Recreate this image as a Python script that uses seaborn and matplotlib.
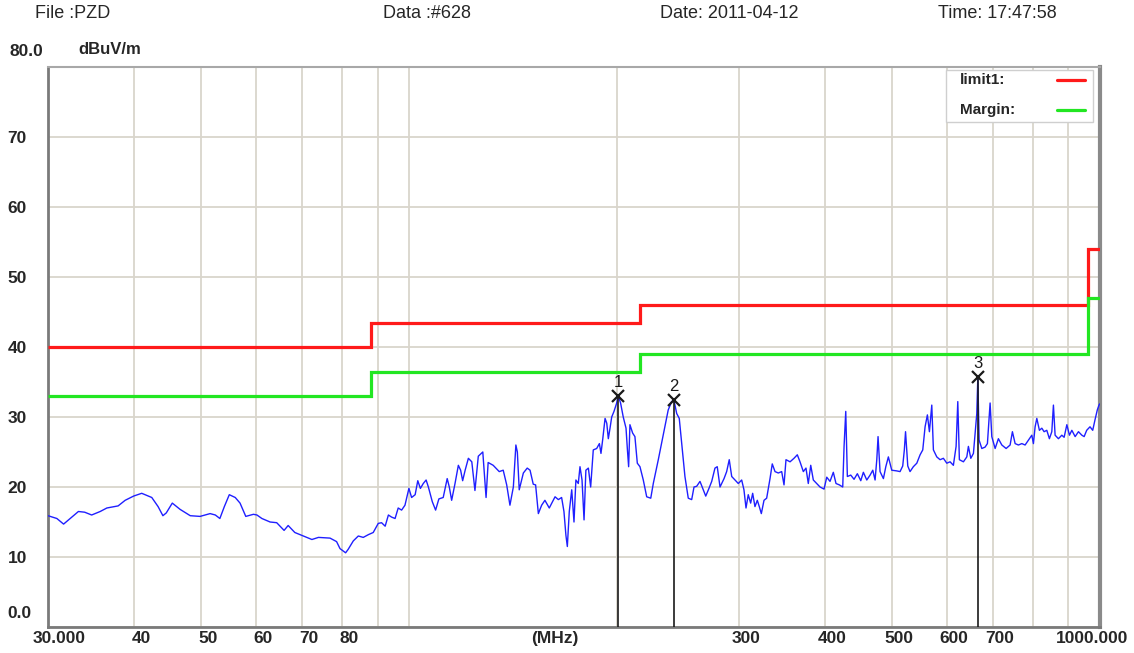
import numpy as np
import pandas as pd
import matplotlib
matplotlib.use("Agg")
import matplotlib.pyplot as plt
import matplotlib.ticker as mticker
import matplotlib.transforms as mtransforms
from matplotlib.patches import Rectangle
from matplotlib.lines import Line2D
import seaborn as sns

freq_mhz = [
    30.0, 30.9, 31.6, 32.3, 33.2, 33.9, 34.7, 35.7, 36.5, 37.9,
    38.8, 39.9, 41.0, 42.4, 43.3, 44.0, 44.5, 45.4, 46.6, 48.2,
    49.8, 51.5, 52.4, 53.2, 54.0, 54.9, 56.0, 56.9, 58.0, 59.5,
    60.2, 61.2, 62.9, 64.3, 65.9, 66.8, 68.3, 70.3, 72.3, 73.9,
    76.8, 78.5, 79.4, 80.9, 81.6, 83.0, 84.4, 85.8, 87.3, 88.7,
    90.2, 91.2, 92.3, 93.3, 94.3, 95.4, 96.4, 97.5, 98.6, 99.9,
    100.8, 102.0, 102.9, 103.8, 104.8, 105.8, 106.6, 108.0, 109.2, 110.4,
    112.0, 113.5, 114.3, 115.2, 116.5, 117.8, 118.7, 119.5, 120.5, 121.8,
    123.2, 124.5, 125.9, 127.8, 129.2, 130.1, 132.3, 135.0, 136.8, 138.4,
    139.9, 141.5, 142.7, 143.4, 144.3, 146.3, 148.2, 149.6, 151.2, 152.4,
    153.8, 155.5, 157.2, 159.5, 162.6, 164.4, 166.2, 167.5, 168.6, 169.4,
    170.5, 171.9, 173.2, 174.3, 175.7, 176.7, 177.9, 179.1, 180.2, 181.7,
    183.1, 184.7, 186.8, 188.5, 189.5, 190.6, 192.1, 193.2, 194.2, 195.3,
    196.4, 197.9, 199.7, 200.7, 202.3, 204.1, 206.0, 206.9, 207.8, 208.7,
    210.6, 212.2, 213.9, 215.8, 218.2, 220.7, 223.7, 225.6, 229.4, 233.2,
    237.1, 239.8, 241.7, 243.9, 246.0, 248.0, 250.7, 253.5, 256.4, 258.4,
    260.7, 263.6, 266.0, 268.7, 271.6, 274.1, 277.1, 279.2, 281.8, 285.6,
    288.1, 290.6, 293.0, 296.2, 299.5, 302.9, 305.2, 307.3, 309.6, 312.1,
    314.2, 316.6, 319.1, 321.2, 323.4, 326.3, 329.2, 332.9, 335.4, 338.5,
    342.2, 346.1, 348.8, 351.1, 355.9, 360.6, 364.6, 367.9, 372.0, 375.3,
    378.2, 381.3, 384.6, 389.0, 393.3, 398.6, 402.2, 406.6, 411.1, 414.8,
    419.5, 424.2, 426.1, 428.5, 430.8, 435.7, 440.5, 445.4, 450.5, 454.4,
    459.6, 464.7, 468.9, 472.5, 475.2, 477.2, 480.4, 485.8, 489.7, 493.9,
    499.5, 507.9, 513.5, 518.1, 520.9, 523.0, 526.9, 530.9, 536.8, 543.0,
    549.0, 553.9, 558.2, 562.5, 566.3, 570.8, 573.9, 580.4, 586.8, 593.3,
    600.1, 606.7, 613.4, 619.0, 622.5, 625.8, 634.3, 641.5, 644.9, 650.1,
    655.8, 659.5, 663.2, 665.5, 668.3, 674.4, 681.8, 687.1, 693.3, 697.2,
    705.0, 712.7, 720.9, 731.3, 741.1, 746.8, 753.6, 761.9, 770.6, 779.1,
    787.7, 796.7, 801.0, 805.5, 810.1, 817.1, 823.7, 830.0, 837.5, 844.8,
    851.6, 856.2, 861.0, 870.6, 880.5, 887.3, 895.4, 903.2, 910.4, 920.5,
    930.7, 941.3, 948.5, 956.6, 967.2, 976.0, 983.5, 991.0, 996.7, 1000.0,
]
level_dbuv = [
    15.9, 15.5, 14.7, 15.5, 16.5, 16.4, 16.0, 16.5, 17.0, 17.3,
    18.1, 18.7, 19.1, 18.5, 17.2, 15.9, 16.3, 17.7, 16.8, 15.9,
    15.8, 16.2, 16.0, 15.5, 17.2, 18.9, 18.5, 17.7, 15.8, 16.1,
    16.0, 15.5, 15.0, 14.9, 13.8, 14.5, 13.5, 13.0, 12.5, 12.8,
    12.7, 12.2, 11.2, 10.6, 11.1, 12.3, 13.0, 12.8, 13.2, 13.5,
    14.8, 14.9, 14.4, 16.0, 15.7, 15.5, 17.0, 16.7, 17.4, 19.8,
    18.5, 18.9, 20.9, 19.8, 20.5, 21.0, 20.0, 17.9, 16.7, 18.3,
    18.5, 21.2, 20.0, 18.1, 20.5, 23.1, 22.4, 20.9, 22.4, 24.1,
    23.6, 19.5, 24.4, 25.0, 18.5, 23.5, 23.1, 22.2, 22.4, 20.3,
    17.4, 20.0, 26.0, 25.0, 19.6, 22.0, 22.7, 22.4, 20.4, 20.3,
    16.2, 17.4, 18.1, 17.0, 18.6, 18.2, 18.5, 16.5, 13.1, 11.5,
    16.5, 19.6, 15.0, 21.0, 20.5, 22.9, 21.0, 15.3, 22.4, 22.7,
    20.0, 25.3, 25.5, 26.2, 24.8, 26.8, 29.8, 29.1, 26.9, 28.4,
    30.0, 30.8, 32.0, 33.0, 32.0, 30.0, 28.4, 25.5, 22.9, 28.9,
    27.7, 27.2, 23.4, 22.9, 21.0, 18.6, 18.4, 20.5, 23.9, 27.4,
    31.0, 32.2, 32.4, 30.5, 29.8, 26.2, 21.5, 18.4, 18.2, 20.0,
    20.1, 20.8, 19.8, 18.7, 19.8, 20.8, 22.7, 22.9, 20.0, 21.2,
    22.2, 23.9, 21.5, 21.0, 20.5, 21.0, 19.6, 17.0, 18.9, 17.7,
    19.1, 17.2, 18.1, 17.2, 16.2, 18.1, 18.4, 21.2, 23.3, 22.2,
    22.0, 22.2, 20.3, 23.9, 23.6, 24.1, 24.6, 23.6, 22.2, 22.7,
    20.5, 23.1, 21.0, 20.5, 20.0, 19.7, 21.4, 20.8, 22.1, 20.5,
    20.3, 20.0, 25.8, 30.8, 21.5, 21.7, 21.1, 21.9, 20.9, 22.1,
    21.0, 21.7, 22.4, 21.0, 23.9, 27.2, 22.2, 21.2, 22.9, 24.3,
    22.4, 22.3, 22.2, 23.0, 25.3, 27.9, 23.0, 22.2, 22.9, 23.4,
    24.6, 25.3, 28.6, 30.3, 27.9, 31.7, 25.3, 24.3, 23.9, 24.1,
    23.4, 23.6, 23.1, 25.8, 32.2, 23.9, 23.6, 24.3, 25.8, 24.1,
    24.8, 27.7, 30.5, 35.7, 26.7, 25.5, 25.7, 26.2, 32.0, 27.2,
    25.5, 26.9, 26.0, 25.5, 26.0, 27.9, 26.2, 26.0, 26.2, 26.0,
    26.7, 27.4, 26.2, 28.6, 29.8, 28.1, 28.4, 27.9, 28.1, 26.9,
    27.9, 31.7, 27.4, 26.9, 27.4, 27.1, 28.9, 27.4, 28.1, 27.2,
    27.9, 27.4, 27.2, 28.1, 28.6, 28.1, 29.6, 31.0, 31.7, 31.9,
]

# limit lines (band edges in MHz, levels in dBuV/m)
limit_edges = [30, 88, 216, 960, 1000]
limit1_dbuv = [40, 43.5, 46, 54]
margin_dbuv = [33, 36.5, 39, 47]

# peak markers
marker_ids = ["1", "2", "3"]
marker_freq = [200.7, 241.7, 665.5]
marker_level = [33.0, 32.4, 35.7]

x_ticks = [30, 40, 50, 60, 70, 80, 300, 400, 500, 600, 700, 1000]
x_tick_labels = ["30.000", "40", "50", "60", "70", "80",
                 "300", "400", "500", "600", "700", "1000.000"]
y_ticks = [0, 10, 20, 30, 40, 50, 60, 70, 80]
y_tick_labels = ["0.0", "10", "20", "30", "40", "50", "60", "70", "80.0"]

header_texts = ["File :PZD", "Data :#628", "Date: 2011-04-12", "Time: 17:47:58"]
legend_labels = ["limit1:", "Margin:"]

RED = "#ff1a1a"
GREEN = "#22e622"
BLUE = "#1f1fff"
GRID = "#d9d5cc"

sns.set_style("white")
plt.rcParams["font.family"] = ["Liberation Sans", "DejaVu Sans"]

W, H = 1134, 653
fig = plt.figure(figsize=(W / 100, H / 100), dpi=100)
ax = fig.add_axes([48 / W, 26 / H, 1052 / W, 560 / H])

df = pd.DataFrame({"freq": freq_mhz, "level": level_dbuv})
sns.lineplot(data=df, x="freq", y="level", ax=ax, color=BLUE, lw=1.0,
             estimator=None, sort=False, zorder=3)

ax.stairs(limit1_dbuv, limit_edges, baseline=None, color=RED, lw=2.3, zorder=4)
ax.stairs(margin_dbuv, limit_edges, baseline=None, color=GREEN, lw=2.3, zorder=4)

for mid, f, lv in zip(marker_ids, marker_freq, marker_level):
    ax.vlines(f, 0, lv, color="#1a1a1a", lw=1.2, zorder=5)
    ax.plot(f, lv, marker="x", color="#1a1a1a", ms=8, mew=1.6, zorder=6)
    ax.annotate(mid, (f, lv), xytext=(0, 6), textcoords="offset pixels",
                ha="center", va="bottom", fontsize=12, color="#1a1a1a")

ax.set_xscale("log")
ax.set_xlim(30, 1000)
ax.set_ylim(0, 80)
ax.set_xlabel("")
ax.set_ylabel("")

ax.set_xticks(x_ticks)
ax.set_xticklabels(x_tick_labels, fontsize=12.5, fontweight="bold")
ax.xaxis.set_minor_locator(mticker.LogLocator(base=10, subs=np.arange(1, 10), numticks=20))
ax.xaxis.set_minor_formatter(mticker.NullFormatter())
ax.set_yticks(y_ticks)
ax.set_yticklabels(y_tick_labels, fontsize=12.5, fontweight="bold")

ax.tick_params(axis="x", which="both", length=0, pad=3)
ax.tick_params(axis="y", which="both", length=0, pad=29)
ax.grid(True, which="both", axis="x", color=GRID, lw=1.3, zorder=0)
ax.grid(True, which="major", axis="y", color=GRID, lw=1.3, zorder=0)
ax.set_axisbelow(True)

def shift(dx, dy):
    return mtransforms.ScaledTranslation(dx / 100, dy / 100, fig.dpi_scale_trans)

xlabels = ax.get_xticklabels()
for lab in xlabels:
    lab.set_transform(lab.get_transform() + shift(7, 0))
xlabels[0].set_horizontalalignment("left")
xlabels[0].set_transform(xlabels[0].get_transform() + shift(-22, 0))
xlabels[-1].set_horizontalalignment("right")
xlabels[-1].set_transform(xlabels[-1].get_transform() + shift(21, 0))

ylabels = ax.get_yticklabels()
for lab in ylabels:
    lab.set_horizontalalignment("left")
ylabels[0].set_transform(ylabels[0].get_transform() + shift(0, 15))
ylabels[-1].set_transform(ylabels[-1].get_transform() + shift(2, 17))

ax.annotate("(MHz)", (0.482, 0), xycoords="axes fraction", xytext=(0, -4),
            textcoords="offset pixels", ha="center", va="top",
            fontsize=12.5, fontweight="bold")

for side, col, lw in [("left", "#7a7a7a", 2), ("bottom", "#7a7a7a", 2),
                      ("top", "#a8a8a8", 1.5), ("right", "#8a8a8a", 3)]:
    ax.spines[side].set_visible(True)
    ax.spines[side].set_color(col)
    ax.spines[side].set_linewidth(lw)

# legend box (text first, line after)
ax.add_patch(Rectangle((0.8536, 0.9018), 0.1397, 0.0928, transform=ax.transAxes,
                       facecolor="white", edgecolor="#cfcfcf", lw=1, zorder=7))
for i, (lab, col) in enumerate(zip(legend_labels, [RED, GREEN])):
    yy = 0.9768 - i * 0.0536
    ax.text(0.8669, yy, lab, transform=ax.transAxes, fontsize=11,
            fontweight="bold", va="center", ha="left", zorder=8)
    ax.add_line(Line2D([0.9591, 0.9857], [yy, yy], transform=ax.transAxes,
                       color=col, lw=2.3, zorder=8))

for txt, xpix in zip(header_texts, [35, 383, 660, 938]):
    fig.text(xpix / W, 1 - 14 / H, txt, fontsize=13, va="center", ha="left")
fig.text(78 / W, 1 - 50 / H, "dBuV/m", fontsize=12, fontweight="bold",
         va="center", ha="left")

fig.savefig("out.png", dpi=100)
